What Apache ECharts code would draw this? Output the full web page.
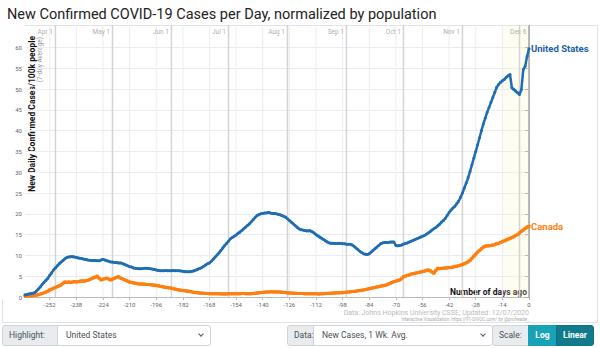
<!DOCTYPE html>
<html><head><meta charset="utf-8">
<script src="https://cdn.jsdelivr.net/npm/echarts@6/dist/echarts.min.js"></script>
<style>
html,body{margin:0;padding:0;width:600px;height:348px;overflow:hidden;background:#fff;}
#chart{position:absolute;left:0;top:0;width:600px;height:348px;}
.ctl{position:absolute;top:325px;height:21px;box-sizing:border-box;font-family:Roboto,"Open Sans",sans-serif;font-size:8.5px;line-height:19px;color:#495057;white-space:nowrap;}
.lab{background:#e9ecef;border:1px solid #ced4da;padding-left:6px;}
.sel{background:#fff;border:1px solid #ced4da;padding-left:8px;}
.chev{position:absolute;right:7px;top:6px;width:3px;height:3px;border-right:1px solid #555;border-bottom:1px solid #555;transform:rotate(45deg);}
.btn{color:#fff;font-weight:bold;text-align:center;}
</style>
</head><body>
<div id="chart"></div>
<div class="ctl lab" style="left:2px;width:56px;border-radius:3px 0 0 3px;">Highlight:</div>
<div class="ctl sel" style="left:57px;width:154px;border-radius:0 3px 3px 0;">United States<span class="chev"></span></div>
<div class="ctl lab" style="left:287px;width:27px;border-radius:3px 0 0 3px;">Data:</div>
<div class="ctl sel" style="left:313px;width:180px;border-radius:0 3px 3px 0;">New Cases, 1 Wk. Avg.<span class="chev"></span></div>
<div class="ctl lab" style="left:492px;width:37px;border-radius:3px 0 0 3px;">Scale:</div>
<div class="ctl btn" style="left:528px;width:29px;background:#17a2b8;border:1px solid #17a2b8;">Log</div>
<div class="ctl btn" style="left:556px;width:38px;background:#117a8b;border:1px solid #10707f;border-radius:0 3px 3px 0;">Linear</div>
<script>
// ---- data ----
const startDay = -265; // first day of data (days ago)
const usValues = [
 0.5,0.6,0.7,0.8,0.9,1.0,1.4,1.9,2.4,3.0,
 3.5,4.0,4.5,5.2,5.8,6.5,7.0,7.5,8.0,8.4,
 8.8,9.2,9.5,9.6,9.7,9.7,9.6,9.5,9.4,9.3,
 9.2,9.1,9.0,8.9,8.85,8.8,8.8,8.75,8.7,8.7,
 8.9,9.0,8.9,8.7,8.6,8.4,8.4,8.3,8.3,8.2,
 8.2,8.1,7.9,7.7,7.5,7.3,7.2,7.0,6.9,6.85,
 6.8,6.8,6.85,6.9,6.9,6.85,6.8,6.7,6.6,6.5,
 6.4,6.3,6.3,6.3,6.35,6.3,6.3,6.3,6.35,6.3,
 6.3,6.3,6.25,6.2,6.1,6.05,6.05,6.1,6.2,6.3,
 6.5,6.7,6.85,7.1,7.4,7.7,8.0,8.2,8.6,9.1,
 9.6,10.1,10.6,11.2,11.8,12.4,12.9,13.4,14.0,14.3,
 14.6,14.9,15.3,15.6,16.0,16.4,16.8,17.2,17.6,18.1,
 18.6,19.1,19.6,19.8,20.0,20.1,20.2,20.2,20.3,20.2,
 20.1,20.1,20.0,19.9,19.8,19.6,19.4,19.2,18.8,18.4,
 18.0,17.6,17.2,16.8,16.4,16.2,16.1,16.0,15.9,15.9,
 15.9,15.7,15.4,15.0,14.7,14.4,14.1,13.8,13.5,13.2,
 13.0,12.95,12.9,12.85,12.85,12.9,12.85,12.8,12.8,12.7,
 12.7,12.7,12.5,12.2,11.8,11.4,11.0,10.7,10.4,10.3,
 10.2,10.4,10.8,11.2,11.6,12.0,12.4,12.8,13.0,13.1,
 13.1,13.1,13.2,13.2,13.2,12.4,12.3,12.4,12.5,12.7,
 12.9,13.0,13.2,13.4,13.6,13.8,14.0,14.2,14.4,14.6,
 14.8,15.1,15.4,15.7,16.1,16.4,16.7,17.1,17.5,18.0,
 18.4,18.9,19.6,20.3,20.9,21.4,21.8,22.4,23.0,24.0,
 25.0,26.2,27.4,28.7,30.2,31.8,33.4,35.0,36.6,38.3,
 40.0,41.6,43.0,44.4,45.6,46.8,48.0,49.2,50.4,51.1,
 51.6,52.0,52.3,52.8,53.2,53.5,50.3,49.9,49.5,49.1,
 48.7,49.9,54.7,55.5,57.9,59.7
];
const canadaValues = [
 0.2,0.2,0.25,0.3,0.3,0.35,0.45,0.55,0.7,0.85,
 1.0,1.2,1.4,1.7,1.9,2.1,2.3,2.5,2.7,2.9,
 3.3,3.6,3.5,3.6,3.5,3.6,3.7,3.6,3.7,3.8,
 3.9,3.8,3.9,4.0,4.2,4.4,4.6,4.8,5.0,4.5,
 4.1,4.3,4.4,4.5,4.3,4.1,4.3,4.5,4.7,4.9,
 4.6,4.4,4.2,4.0,3.8,3.6,3.5,3.4,3.3,3.2,
 3.15,3.1,3.1,3.05,3.0,3.0,2.95,2.9,2.85,2.8,
 2.7,2.6,2.5,2.4,2.3,2.25,2.2,2.1,2.0,1.9,
 1.8,1.7,1.6,1.55,1.5,1.45,1.4,1.3,1.2,1.1,
 1.05,1.0,0.95,0.9,0.9,0.85,0.85,0.8,0.8,0.8,
 0.8,0.8,0.8,0.75,0.75,0.75,0.75,0.8,0.8,0.8,
 0.8,0.8,0.8,0.8,0.85,0.85,0.8,0.8,0.8,0.8,
 0.85,0.9,0.95,1.0,1.05,1.1,1.15,1.2,1.2,1.25,
 1.25,1.2,1.25,1.2,1.2,1.15,1.1,1.05,1.0,0.95,
 0.95,0.9,0.9,0.85,0.85,0.85,0.85,0.8,0.8,0.8,
 0.8,0.8,0.8,0.8,0.75,0.75,0.8,0.8,0.85,0.85,
 0.9,0.9,0.95,0.95,1.0,1.0,1.05,1.05,1.1,1.15,
 1.2,1.25,1.3,1.35,1.4,1.5,1.55,1.6,1.7,1.8,
 1.9,2.0,2.1,2.2,2.3,2.4,2.5,2.6,2.7,2.8,
 2.9,3.1,3.3,3.5,3.7,3.8,4.0,4.1,4.4,4.9,
 5.0,5.2,5.3,5.5,5.6,5.7,5.8,5.9,6.0,6.1,
 6.2,6.4,6.5,6.3,6.0,5.7,6.4,6.9,6.8,6.9,
 6.9,7.0,7.0,7.1,7.1,7.2,7.3,7.4,7.5,7.65,
 7.8,8.0,8.2,8.45,8.8,9.3,9.8,10.3,10.8,11.2,
 11.6,12.0,12.2,12.3,12.3,12.4,12.5,12.6,12.8,12.9,
 13.1,13.3,13.5,13.7,13.9,14.1,14.3,14.5,14.8,15.0,
 15.4,15.8,16.1,16.5,16.8,17.0
];
const seriesNames = ['United States', 'Canada'];
const xTickValues = [-252,-238,-224,-210,-196,-182,-168,-154,-140,-126,-112,-98,-84,-70,-56,-42,-28,-14,0];
const yTickValues = [0,5,10,15,20,25,30,35,40,45,50,55,60];
const monthDays   = [-249,-219,-188,-158,-127,-96,-66,-35,-5,0];
const monthLabels = ['Apr 1','May 1','Jun 1','Jul 1','Aug 1','Sep 1','Oct 1','Nov 1','','Dec 6'];
const recentShade = [-14, 0];
const titleText = 'New Confirmed COVID-19 Cases per Day, normalized by population';
const yName = 'New Daily Confirmed Cases/100k people';
const ySub = '(7-day Average)';
const xName = 'Number of days ago';
const source1 = 'Data: Johns Hopkins University CSSE; Updated: 12/07/2020';
const source2 = 'Interactive Visualization: https://91-DIVOC.com/ by @profwade_';

// ---- chart ----
const yMax = 65.4;
const FONT = 'Roboto, "Open Sans", sans-serif';
const toPairs = vals => vals.map((v, i) => [startDay + i, v]);
const chart = echarts.init(document.getElementById('chart'), null, {renderer: 'svg'});

const guideData = [];
xTickValues.forEach(d => guideData.push([d, 0, 'grid', '']));
monthDays.forEach((d, i) => guideData.push([d, 0, i === monthDays.length - 1 ? 'end' : 'month', monthLabels[i]]));

chart.setOption({
  animation: false,
  textStyle: {fontFamily: FONT},
  title: {text: titleText, left: 2, top: 2, textStyle: {fontSize: 14.5, fontWeight: 'normal', color: '#222', fontFamily: FONT}},
  grid: {left: 25, right: 71, top: 25, bottom: 51},
  xAxis: {
    type: 'value', min: startDay, max: 0,
    axisLine: {lineStyle: {color: '#bbb'}},
    axisTick: {customValues: xTickValues, length: 3, lineStyle: {color: '#bbb'}},
    axisLabel: {customValues: xTickValues, fontSize: 6, color: '#666', margin: 4},
    splitLine: {show: false}
  },
  yAxis: {
    type: 'value', min: 0, max: yMax, interval: 5,
    axisLine: {show: true, lineStyle: {color: '#aaa'}},
    axisTick: {show: true, customValues: yTickValues, length: 4, lineStyle: {color: '#aaa'}},
    axisLabel: {customValues: yTickValues, fontSize: 6, color: '#666', margin: 3},
    splitLine: {lineStyle: {color: '#ebebf3'}}
  },
  graphic: [
    {type: 'polyline', silent: true, shape: {points: [[25, 25.5], [597.5, 25.5], [597.5, 322.5], [2.5, 322.5], [2.5, 300]]}, style: {stroke: '#e2e2e2', fill: null, lineWidth: 1}},
    {type: 'text', x: 32, y: 36, rotation: Math.PI / 2, style: {text: yName, align: 'right', verticalAlign: 'middle', font: 'bold 8.5px ' + FONT, fill: '#111'}},
    {type: 'text', x: 40, y: 37, rotation: Math.PI / 2, style: {text: ySub, align: 'right', verticalAlign: 'middle', font: '6.5px ' + FONT, fill: '#999'}},
    {type: 'text', x: 527, y: 292, style: {text: xName, align: 'right', verticalAlign: 'middle', font: 'bold 8.5px ' + FONT, fill: '#111'}},
    {type: 'text', x: 529, y: 312.5, style: {text: source1, align: 'right', verticalAlign: 'middle', font: '7px ' + FONT, fill: '#bbb'}},
    {type: 'text', x: 529, y: 319.5, style: {text: source2, align: 'right', verticalAlign: 'middle', font: '4.5px ' + FONT, fill: '#aaa'}}
  ],
  series: [
    {
      type: 'custom', silent: true, z: 1, clip: false,
      data: guideData,
      encode: {x: 0, y: 1},
      renderItem: (params, api) => {
        const d = api.value(0);
        const kind = guideData[params.dataIndex][2];
        const label = guideData[params.dataIndex][3];
        const top = api.coord([d, yMax]);
        const bot = api.coord([d, 0]);
        if (kind === 'grid') {
          return {type: 'line', shape: {x1: top[0], y1: top[1], x2: bot[0], y2: bot[1]}, style: {stroke: '#ebebf3', lineWidth: 1}};
        }
        const children = [{type: 'line', shape: {x1: top[0], y1: top[1], x2: bot[0], y2: bot[1]},
          style: {stroke: kind === 'end' ? '#a8a8a8' : '#d4d4d4', lineWidth: 1.5}}];
        if (label) children.push({type: 'text', style: {text: label, x: top[0] - 2.5, y: top[1] + 7, align: 'right', verticalAlign: 'middle', font: '6.5px ' + FONT, fill: '#b0b0b0'}});
        return {type: 'group', children};
      },
      markArea: {silent: true, itemStyle: {color: 'rgba(250,245,190,0.22)'}, data: [[{xAxis: recentShade[0]}, {xAxis: recentShade[1]}]]}
    },
    {
      name: seriesNames[1], type: 'line', z: 3,
      data: toPairs(canadaValues),
      color: '#ff7f0e',
      symbol: 'rect', symbolSize: 3, showSymbol: true,
      lineStyle: {width: 3, color: '#ff7f0e'},
      itemStyle: {color: '#ff7f0e'},
      endLabel: {show: true, formatter: '{a}', color: '#ff7f0e', fontWeight: 'bold', fontSize: 9.5, distance: 2, fontFamily: FONT}
    },
    {
      name: seriesNames[0], type: 'line', z: 4,
      data: toPairs(usValues),
      color: '#1f6db3',
      symbol: 'circle', symbolSize: 3, showSymbol: true,
      lineStyle: {width: 2.5, color: '#1f6db3'},
      itemStyle: {color: '#1f6db3'},
      endLabel: {show: true, formatter: '{a}', color: '#1a5ea8', fontWeight: 'bold', fontSize: 9.5, distance: 2, fontFamily: FONT}
    }
  ]
});
</script>
</body></html>
